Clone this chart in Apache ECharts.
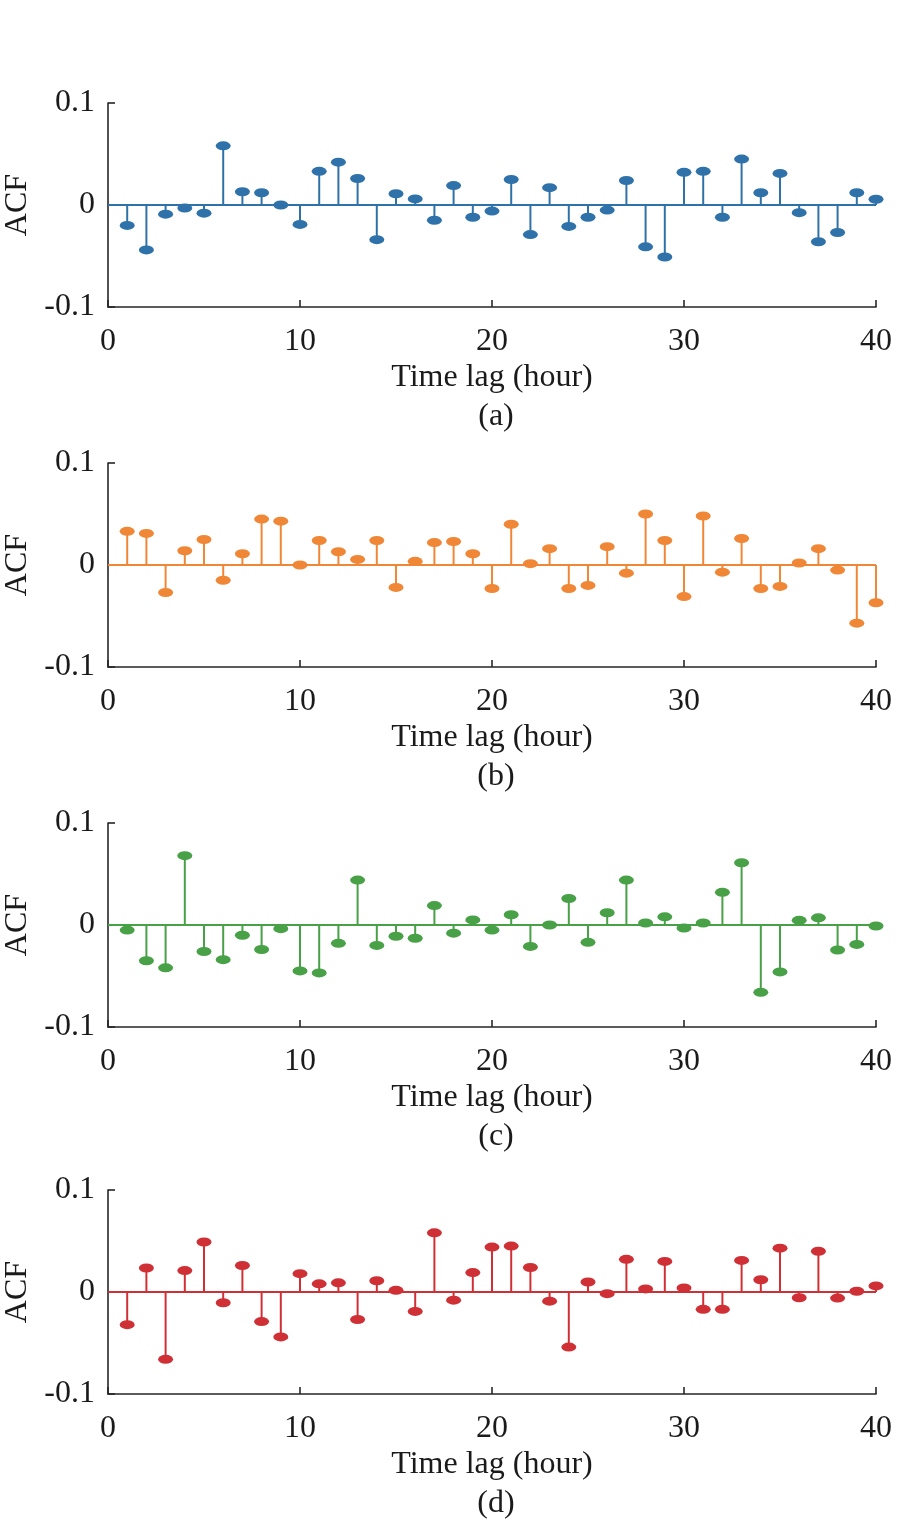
<!DOCTYPE html>
<html>
<head>
<meta charset="utf-8">
<script src="https://cdn.jsdelivr.net/npm/echarts@6/dist/echarts.min.js"></script>
<style>
  html, body { margin: 0; padding: 0; background: #fff; }
  #chart { width: 924px; height: 1526px; }
</style>
</head>
<body>
<div id="chart"></div>
<script>
// lags 1..40
var lags = [1,2,3,4,5,6,7,8,9,10,11,12,13,14,15,16,17,18,19,20,
            21,22,23,24,25,26,27,28,29,30,31,32,33,34,35,36,37,38,39,40];
var xTicks = [0, 10, 20, 30, 40];
var yTicks = [-0.1, 0, 0.1];
var captions = ['(a)', '(b)', '(c)', '(d)'];
var colors = ['#2f72a9', '#ef8736', '#48a047', '#cf3035'];

var acfA = [-0.020,-0.044,-0.009,-0.003,-0.008,0.058,0.013,0.012,0.000,-0.019,
            0.033,0.042,0.026,-0.034,0.011,0.006,-0.015,0.019,-0.012,-0.006,
            0.025,-0.029,0.017,-0.021,-0.012,-0.005,0.024,-0.041,-0.051,0.032,
            0.033,-0.012,0.045,0.012,0.031,-0.0075,-0.036,-0.027,0.012,0.0056];
var acfB = [0.033,0.031,-0.027,0.014,0.025,-0.015,0.011,0.045,0.043,0.000,
            0.024,0.013,0.0055,0.024,-0.022,0.0036,0.022,0.023,0.011,-0.023,
            0.040,0.0013,0.016,-0.023,-0.020,0.018,-0.008,0.050,0.024,-0.031,
            0.048,-0.007,0.026,-0.023,-0.021,0.002,0.016,-0.005,-0.057,-0.037];
var acfC = [-0.005,-0.035,-0.042,0.068,-0.026,-0.034,-0.010,-0.024,-0.0036,-0.045,
            -0.047,-0.018,0.044,-0.020,-0.011,-0.013,0.019,-0.008,0.005,-0.005,
            0.010,-0.021,0.000,0.026,-0.017,0.012,0.044,0.002,0.008,-0.003,
            0.002,0.032,0.061,-0.066,-0.046,0.0046,0.007,-0.0245,-0.019,-0.001];
var acfD = [-0.032,0.0235,-0.066,0.021,0.049,-0.0105,0.026,-0.029,-0.044,0.018,
            0.008,0.009,-0.027,0.011,0.0016,-0.019,0.058,-0.008,0.019,0.044,
            0.045,0.024,-0.009,-0.054,0.0098,-0.0016,0.032,0.003,0.030,0.004,
            -0.017,-0.017,0.031,0.012,0.043,-0.0056,0.040,-0.006,0.0007,0.006];
var panels = [acfA, acfB, acfC, acfD];

var font = 'Liberation Serif';
var fs = 32;
var tops = [103, 463, 823, 1190];
var gridH = 204;
var axisCol = '#262626';

var myChart = echarts.init(document.getElementById('chart'));

var grids = [], xAxes = [], yAxes = [], series = [], titles = [];
for (var i = 0; i < panels.length; i++) {
    grids.push({ left: 108, width: 768, top: tops[i], height: gridH, outerBoundsMode: 'none', containLabel: false });
    xAxes.push({
        type: 'value', gridIndex: i,
        min: xTicks[0], max: xTicks[xTicks.length - 1], interval: 10,
        name: 'Time lag (hour)', nameLocation: 'middle', nameGap: 55,
        nameTextStyle: { fontFamily: font, fontSize: fs, color: '#1a1a1a' },
        axisLine: { onZero: false, lineStyle: { color: axisCol, width: 1.6 } },
        axisTick: { inside: true, length: 7, lineStyle: { color: axisCol, width: 1.6 } },
        axisLabel: { margin: 19, fontFamily: font, fontSize: fs, color: '#1a1a1a' },
        splitLine: { show: false }
    });
    yAxes.push({
        type: 'value', gridIndex: i,
        min: yTicks[0], max: yTicks[yTicks.length - 1], interval: 0.1,
        name: 'ACF', nameLocation: 'middle', nameGap: 72,
        nameTextStyle: { fontFamily: font, fontSize: fs, color: '#1a1a1a' },
        axisLine: { show: true, lineStyle: { color: axisCol, width: 1.6 } },
        axisTick: { show: true, inside: true, length: 7, lineStyle: { color: axisCol, width: 1.6 } },
        axisLabel: {
            margin: 13, fontFamily: font, fontSize: fs, color: '#1a1a1a',
            formatter: function (v) { return Math.abs(v) < 1e-9 ? '0' : String(Math.round(v * 10) / 10); }
        },
        splitLine: { show: false }
    });
    var pts = lags.map(function (x, j) { return [x, panels[i][j]]; });
    // zero baseline
    series.push({
        type: 'line', xAxisIndex: i, yAxisIndex: i,
        data: [[xTicks[0], 0], [xTicks[xTicks.length - 1], 0]],
        symbol: 'none', silent: true, z: 1,
        lineStyle: { color: colors[i], width: 2 }
    });
    // stems
    series.push({
        type: 'bar', xAxisIndex: i, yAxisIndex: i,
        data: pts, barWidth: 2, z: 2,
        itemStyle: { color: colors[i] }
    });
    // heads
    series.push({
        type: 'scatter', xAxisIndex: i, yAxisIndex: i,
        data: pts, symbol: 'circle', symbolSize: [15, 9], z: 3,
        itemStyle: { color: colors[i], opacity: 1 }
    });
    titles.push({
        text: captions[i], left: 491, top: tops[i] + 293, textAlign: 'center',
        textStyle: { fontFamily: font, fontSize: fs, fontWeight: 'normal', color: '#1a1a1a' }
    });
}

var option = {
    animation: false,
    backgroundColor: '#fff',
    title: titles,
    grid: grids,
    xAxis: xAxes,
    yAxis: yAxes,
    series: series
};
myChart.setOption(option, true);
</script>
</body>
</html>
